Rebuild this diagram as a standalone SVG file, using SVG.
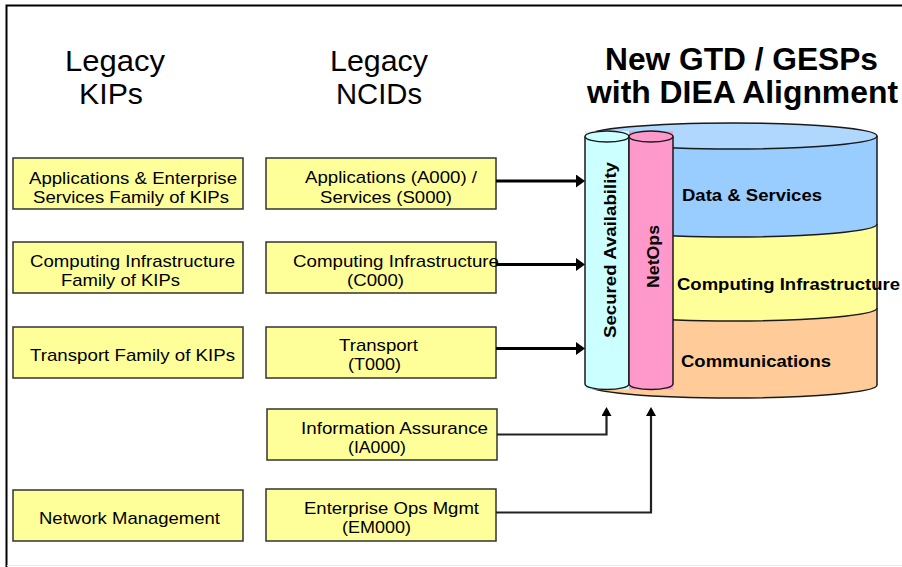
<svg xmlns="http://www.w3.org/2000/svg" width="902" height="567" viewBox="0 0 902 567">
<defs>
<style>
.box{fill:#FFFF99;stroke:#333;stroke-width:1.5}
.bt{font-family:"Liberation Sans",Arial,sans-serif;font-size:17px;fill:#000}
.hd{font-family:"Liberation Sans",Arial,sans-serif;font-size:30px;fill:#000}
.tt{font-family:"Liberation Sans",Arial,sans-serif;font-size:31px;font-weight:bold;fill:#000}
.cl{font-family:"Liberation Sans",Arial,sans-serif;font-size:17px;font-weight:bold;fill:#000}
.ol{fill:none;stroke:#1a1a1a;stroke-width:1.5}
.thick{fill:none;stroke:#000;stroke-width:3}
.thin{fill:none;stroke:#222;stroke-width:2.2}
</style>
<marker id="ah" viewBox="0 0 9 13" refX="0" refY="6.5" markerWidth="9" markerHeight="13" markerUnits="userSpaceOnUse" orient="auto">
<path d="M0,0 L9,6.5 L0,13 Z" fill="#000"/>
</marker>
<marker id="ahs" viewBox="0 0 9 10" refX="0" refY="5" markerWidth="9" markerHeight="10" markerUnits="userSpaceOnUse" orient="auto">
<path d="M0,0 L9,5 L0,10 Z" fill="#000"/>
</marker>
</defs>
<rect x="0" y="0" width="902" height="567" fill="#fff"/>
<path d="M6.5,567 V5.5 H902" fill="none" stroke="#000" stroke-width="2"/>
<line x1="7" y1="565.5" x2="902" y2="565.5" stroke="#e8e8e8" stroke-width="1"/>

<g id="headings">
<text class="hd" x="65" y="71" textLength="100" lengthAdjust="spacingAndGlyphs">Legacy</text>
<text class="hd" x="79" y="104" textLength="64" lengthAdjust="spacingAndGlyphs">KIPs</text>
<text class="hd" x="330" y="71" textLength="98" lengthAdjust="spacingAndGlyphs">Legacy</text>
<text class="hd" x="336" y="104" textLength="86" lengthAdjust="spacingAndGlyphs">NCIDs</text>
<text class="tt" x="605" y="70" textLength="273" lengthAdjust="spacingAndGlyphs">New GTD / GESPs</text>
<text class="tt" x="587" y="103" textLength="311" lengthAdjust="spacingAndGlyphs">with DIEA Alignment</text>
</g>

<g id="kip-apps">
<rect class="box" x="13" y="158" width="230" height="51"/>
<text class="bt" x="29" y="183.5" textLength="208" lengthAdjust="spacingAndGlyphs">Applications &amp; Enterprise</text>
<text class="bt" x="33" y="202.5" textLength="196" lengthAdjust="spacingAndGlyphs">Services Family of KIPs</text>
</g>
<g id="kip-computing">
<rect class="box" x="13" y="242" width="230" height="51"/>
<text class="bt" x="30" y="266.5" textLength="205" lengthAdjust="spacingAndGlyphs">Computing Infrastructure</text>
<text class="bt" x="61" y="285.5" textLength="119" lengthAdjust="spacingAndGlyphs">Family of KIPs</text>
</g>
<g id="kip-transport">
<rect class="box" x="13" y="327" width="230" height="51"/>
<text class="bt" x="30" y="360.5" textLength="205" lengthAdjust="spacingAndGlyphs">Transport Family of KIPs</text>
</g>
<g id="kip-netmgmt">
<rect class="box" x="13" y="490" width="230" height="51"/>
<text class="bt" x="39" y="523.5" textLength="181" lengthAdjust="spacingAndGlyphs">Network Management</text>
</g>

<g id="ncid-apps">
<rect class="box" x="266" y="158" width="230" height="51"/>
<text class="bt" x="305" y="183" textLength="172" lengthAdjust="spacingAndGlyphs">Applications (A000) /</text>
<text class="bt" x="320" y="202.5" textLength="132" lengthAdjust="spacingAndGlyphs">Services (S000)</text>
</g>
<g id="ncid-computing">
<rect class="box" x="266" y="242" width="230" height="51"/>
<text class="bt" x="293" y="266.5" textLength="206" lengthAdjust="spacingAndGlyphs">Computing Infrastructure</text>
<text class="bt" x="347" y="285.5" textLength="57" lengthAdjust="spacingAndGlyphs">(C000)</text>
</g>
<g id="ncid-transport">
<rect class="box" x="266" y="327" width="230" height="51"/>
<text class="bt" x="339" y="350.5" textLength="79" lengthAdjust="spacingAndGlyphs">Transport</text>
<text class="bt" x="348" y="369.5" textLength="53" lengthAdjust="spacingAndGlyphs">(T000)</text>
</g>
<g id="ncid-ia">
<rect class="box" x="267" y="409" width="230" height="51"/>
<text class="bt" x="301" y="434" textLength="187" lengthAdjust="spacingAndGlyphs">Information Assurance</text>
<text class="bt" x="348" y="453" textLength="58" lengthAdjust="spacingAndGlyphs">(IA000)</text>
</g>
<g id="ncid-em">
<rect class="box" x="266" y="489" width="230" height="52"/>
<text class="bt" x="304" y="514" textLength="175" lengthAdjust="spacingAndGlyphs">Enterprise Ops Mgmt</text>
<text class="bt" x="342" y="533" textLength="69" lengthAdjust="spacingAndGlyphs">(EM000)</text>
</g>

<g id="gtd-cylinder">
<path d="M587,308 V385 A145,13 0 0 0 877,385 V308 Z" fill="#FFCC99"/>
<path d="M587,224 V308 A145,13 0 0 0 877,308 V224 Z" fill="#FFFF99"/>
<path d="M587,136 V224 A145,13 0 0 0 877,224 V136 Z" fill="#99CCFF"/>
<ellipse cx="732" cy="136" rx="145" ry="13" fill="#B0D8FF"/>
<path class="ol" d="M587,136 V385 A145,13 0 0 0 877,385 V136"/>
<path class="ol" d="M587,224 A145,13 0 0 0 877,224"/>
<path class="ol" d="M587,308 A145,13 0 0 0 877,308"/>
<ellipse class="ol" cx="732" cy="136" rx="145" ry="13"/>
<text class="cl" x="682" y="201" textLength="140" lengthAdjust="spacingAndGlyphs">Data &amp; Services</text>
<text class="cl" x="677" y="290" textLength="223" lengthAdjust="spacingAndGlyphs">Computing Infrastructure</text>
<text class="cl" x="681" y="367" textLength="150" lengthAdjust="spacingAndGlyphs">Communications</text>
</g>

<g id="secured-availability">
<rect x="585" y="131" width="44" height="258.5" fill="#CCFFFF"/>
<path class="ol" d="M585,136.5 V384 A22,5.5 0 0 0 629,384 V136.5"/>
<ellipse class="ol" cx="607" cy="136.5" rx="22" ry="5.5" style="fill:#CCFFFF"/>
<text class="cl" transform="translate(615.5,250) rotate(-90)" text-anchor="middle" textLength="176" lengthAdjust="spacingAndGlyphs">Secured Availability</text>
</g>
<g id="netops">
<rect x="629" y="131" width="44" height="258.5" fill="#FF99CC"/>
<path class="ol" d="M629,136.5 V384 A22,5.5 0 0 0 673,384 V136.5"/>
<ellipse class="ol" cx="651" cy="136.5" rx="22" ry="5.5" style="fill:#FF99CC"/>
<text class="cl" transform="translate(659,256.5) rotate(-90)" text-anchor="middle" textLength="63" lengthAdjust="spacingAndGlyphs">NetOps</text>
</g>

<g id="connectors">
<line class="thick" x1="496" y1="181" x2="576" y2="181" marker-end="url(#ah)"/>
<line class="thick" x1="496" y1="264.5" x2="576" y2="264.5" marker-end="url(#ah)"/>
<line class="thick" x1="496" y1="348.5" x2="576" y2="348.5" marker-end="url(#ah)"/>
<path class="thin" d="M497,434.5 H606.5 V416" marker-end="url(#ahs)"/>
<path class="thin" d="M496,512.5 H651 V416" marker-end="url(#ahs)"/>
</g>
</svg>
